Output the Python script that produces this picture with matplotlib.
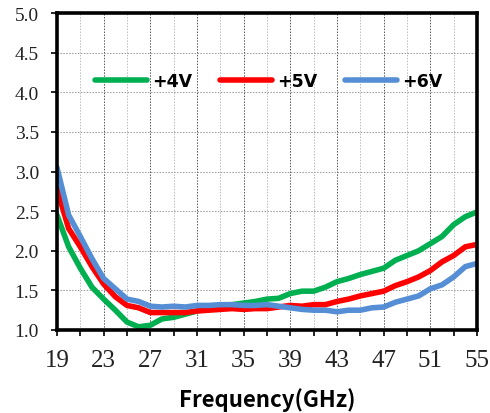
import matplotlib
matplotlib.use("Agg")
import matplotlib.pyplot as plt
from matplotlib.ticker import FixedLocator, MultipleLocator, FormatStrFormatter

freq = [19, 20, 21, 22, 23, 24, 25, 26, 27, 28, 29, 30, 31, 32, 33, 34, 35, 36, 37,
        38, 39, 40, 41, 42, 43, 44, 45, 46, 47, 48, 49, 50, 51, 52, 53, 54, 55]
v4 = [2.45, 2.05, 1.78, 1.54, 1.39, 1.25, 1.10, 1.04, 1.06, 1.14, 1.16, 1.20, 1.24,
      1.27, 1.30, 1.32, 1.34, 1.36, 1.39, 1.40, 1.46, 1.49, 1.49, 1.54, 1.61, 1.65,
      1.70, 1.74, 1.78, 1.88, 1.94, 2.00, 2.09, 2.18, 2.33, 2.43, 2.49]
v5 = [2.78, 2.28, 2.05, 1.80, 1.58, 1.42, 1.31, 1.28, 1.22, 1.22, 1.22, 1.22, 1.24,
      1.25, 1.26, 1.27, 1.26, 1.27, 1.27, 1.29, 1.31, 1.30, 1.32, 1.32, 1.36, 1.39,
      1.43, 1.46, 1.49, 1.56, 1.61, 1.67, 1.75, 1.86, 1.94, 2.05, 2.08]
v6 = [3.05, 2.45, 2.18, 1.90, 1.65, 1.52, 1.39, 1.36, 1.30, 1.29, 1.30, 1.29, 1.31,
      1.31, 1.32, 1.32, 1.31, 1.31, 1.32, 1.30, 1.28, 1.26, 1.25, 1.25, 1.23, 1.25,
      1.25, 1.28, 1.29, 1.35, 1.39, 1.43, 1.52, 1.57, 1.67, 1.80, 1.84]
xticks = [19, 23, 27, 31, 35, 39, 43, 47, 51, 55]
labels = ["+4V", "+5V", "+6V"]
colors = ["#00b050", "#ff0000", "#558ed5"]

fig = plt.figure(figsize=(4.9, 4.14), dpi=100)
ax = fig.add_axes([0.1163, 0.2005, 0.8572, 0.7655])

for y, lab, c in zip([v4, v5, v6], labels, colors):
    ax.plot(freq, y, color=c, lw=4.0, label=lab, solid_capstyle="round")

ax.set_xlim(19, 55)
ax.set_ylim(1.0, 5.0)
ax.xaxis.set_major_locator(FixedLocator(xticks))
ax.xaxis.set_minor_locator(FixedLocator([t + 2 for t in xticks[:-1]]))
ax.yaxis.set_major_locator(MultipleLocator(0.5))
ax.yaxis.set_major_formatter(FormatStrFormatter("%.1f"))

ax.grid(which="major", axis="x", color="#555555", ls=(0, (1.5, 1.5)), lw=0.7)
ax.grid(which="minor", axis="x", color="#bbbbbb", ls=(0, (1.5, 1.5)), lw=0.7)
ax.grid(which="major", axis="y", color="#999999", ls=(0, (1.5, 1.5)), lw=0.7)

for s in ax.spines.values():
    s.set_linewidth(2.6)
    s.set_color("black")

ax.tick_params(axis="x", which="both", direction="out", length=4, width=1.2,
               labelsize=18, pad=10)
ax.tick_params(axis="y", which="major", direction="out", length=4, width=1.2,
               labelsize=14, pad=9)
for t in ax.get_xticklabels() + ax.get_yticklabels():
    t.set_fontfamily("Liberation Serif")
    t.set_color("#222222")

ax.set_xlabel("Frequency(GHz)", fontsize=16, fontweight="heavy",
              family=["Noto Sans CJK SC", "DejaVu Sans"], labelpad=11)

leg = ax.legend(loc="center left", bbox_to_anchor=(0.09, 0.785), ncol=3,
                frameon=False, handlelength=3.0, handletextpad=0.3,
                columnspacing=1.6, borderaxespad=0, borderpad=0,
                prop={"family": "DejaVu Sans", "weight": "bold", "size": 12.5})

fig.savefig("out.png", dpi=100)
